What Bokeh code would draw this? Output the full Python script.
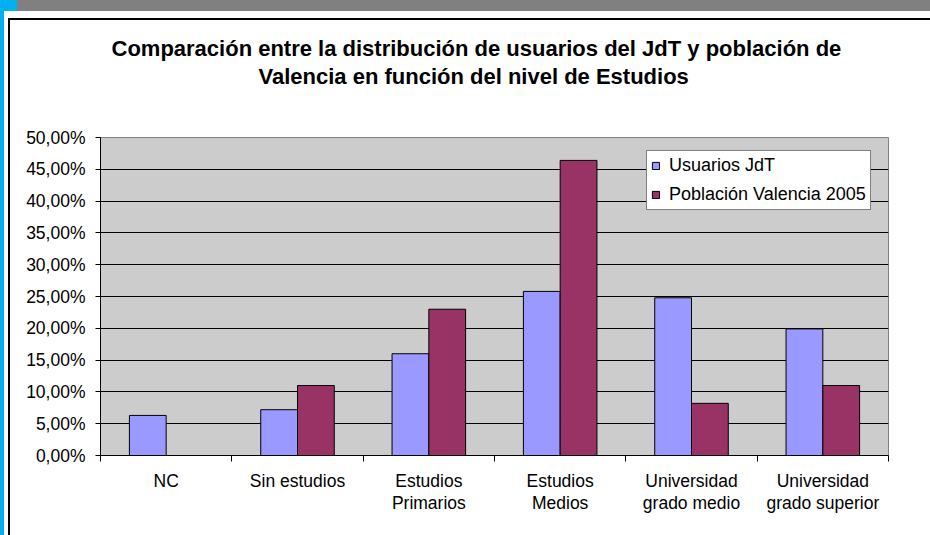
from bokeh.plotting import figure
from bokeh.models import (Range1d, FixedTicker, ColumnDataSource, Legend, LegendItem, Title,
                          LinearAxis)
from bokeh.transform import dodge
from bokeh.embed import file_html
from bokeh.resources import INLINE

# ---------------- data ----------------
CATEGORIES = [
    "NC",
    "Sin estudios",
    "Estudios\nPrimarios",
    "Estudios\nMedios",
    "Universidad\ngrado medio",
    "Universidad\ngrado superior",
]
USUARIOS_JDT = [6.3, 7.2, 16.0, 25.8, 24.8, 19.9]
POBLACION_VALENCIA_2005 = [float("nan"), 11.0, 23.0, 46.4, 8.2, 11.0]
SERIES_NAMES = ["Usuarios JdT", "Población Valencia 2005"]
Y_TICKS = [0, 5, 10, 15, 20, 25, 30, 35, 40, 45, 50]
Y_TICK_LABELS = ["0,00%", "5,00%", "10,00%", "15,00%", "20,00%", "25,00%",
                 "30,00%", "35,00%", "40,00%", "45,00%", "50,00%"]
TITLE_LINES = [
    "Comparación entre la distribución de usuarios del JdT y población de",
    "Valencia en función del nivel de Estudios",
]

FONT = "Liberation Sans"
BLUE = "#9999FF"
PLUM = "#993366"

n = len(CATEGORIES)
centers = [i + 0.5 for i in range(n)]
boundaries = [i for i in range(n + 1)]

p = figure(width=930, height=535, output_backend="svg", toolbar_location=None,
           x_range=Range1d(0, n), y_range=Range1d(0, 50),
           min_border_left=100, min_border_right=42,
           min_border_top=137, min_border_bottom=80)
p.title.visible = False
p.background_fill_color = "#CCCCCC"
p.border_fill_color = None
p.outline_line_color = "#808080"
p.outline_line_width = 1

# decorations of the original screenshot (page frame) via CSS background
p.styles = {
    "background": (
        "linear-gradient(#00B0F0,#00B0F0) 0px 0px / 17px 11px no-repeat, "
        "linear-gradient(#00B0F0,#00B0F0) 0px 0px / 4px 100% no-repeat, "
        "linear-gradient(#808080,#808080) 17px 0px / 913px 11px no-repeat, "
        "linear-gradient(#000000,#000000) 8px 18px / 2px 517px no-repeat, "
        "linear-gradient(#000000,#000000) 8px 18px / 922px 2px no-repeat, "
        "#FFFFFF"
    ),
}

# grid
p.xgrid.visible = False
p.ygrid.grid_line_color = "black"
p.ygrid.grid_line_width = 1
p.ygrid.ticker = FixedTicker(ticks=Y_TICKS)

# y axis
p.yaxis.ticker = FixedTicker(ticks=Y_TICKS)
p.yaxis.major_label_overrides = dict(zip(Y_TICKS, Y_TICK_LABELS))
p.yaxis.axis_line_color = "black"
p.yaxis.major_tick_line_color = "black"
p.yaxis.major_tick_out = 5
p.yaxis.major_tick_in = 0
p.yaxis.minor_tick_line_color = None
p.yaxis.major_label_standoff = 10
p.yaxis.major_label_text_font = FONT
p.yaxis.major_label_text_font_size = "17.5px"
p.yaxis.major_label_text_color = "black"

# x axis (labels at category centres, ticks at category boundaries)
p.xaxis.ticker = FixedTicker(ticks=centers, minor_ticks=boundaries)
p.xaxis.major_label_overrides = dict(zip(centers, CATEGORIES))
p.xaxis.axis_line_color = "black"
p.xaxis.major_tick_line_color = None
p.xaxis.major_tick_out = 0
p.xaxis.major_tick_in = 0
p.xaxis.minor_tick_line_color = "black"
p.xaxis.minor_tick_out = 6
p.xaxis.minor_tick_in = 0
p.xaxis.major_label_standoff = 9
p.xaxis.major_label_text_font = FONT
p.xaxis.major_label_text_font_size = "17.5px"
p.xaxis.major_label_text_color = "black"
p.xaxis.major_label_text_line_height = 1.1

# bars
src = ColumnDataSource(dict(x=centers, jdt=USUARIOS_JDT, pob=POBLACION_VALENCIA_2005))
r1 = p.vbar(x=dodge("x", -0.14, range=p.x_range), top="jdt", width=0.28, source=src,
            fill_color=BLUE, line_color="black", line_width=1)
r2 = p.vbar(x=dodge("x", 0.14, range=p.x_range), top="pob", width=0.28, source=src,
            fill_color=PLUM, line_color="black", line_width=1)

legend = Legend(items=[LegendItem(label=SERIES_NAMES[0], renderers=[r1]),
                       LegendItem(label=SERIES_NAMES[1], renderers=[r2])],
                location=(546, 245))
legend.border_line_color = "black"
legend.border_line_width = 1
legend.background_fill_color = "white"
legend.background_fill_alpha = 1
legend.glyph_width = 9
legend.glyph_height = 9
legend.label_standoff = 9
legend.padding = 4
legend.spacing = 8
legend.label_height = 20
legend.margin = 0
legend.label_text_font = FONT
legend.label_text_font_size = "18px"
legend.label_text_color = "black"
p.add_layout(legend)

# invisible spacer between the plot area and the title block
spacer = LinearAxis(ticker=FixedTicker(ticks=[0]), axis_line_color=None,
                    major_tick_line_color=None, minor_tick_line_color=None,
                    major_tick_out=47, major_tick_in=0, minor_tick_out=0, minor_tick_in=0,
                    major_label_standoff=0, major_label_text_color=None,
                    major_label_text_font_size="1px")
p.add_layout(spacer, "above")

# title (two lines, each its own Title in the "above" panel)
t2 = Title(text=TITLE_LINES[1], align="left", offset=158, vertical_align="top",
           standoff=0, text_font=FONT, text_font_style="bold",
           text_font_size="22px", text_color="black")
t1 = Title(text=TITLE_LINES[0], align="left", offset=11, vertical_align="top",
           standoff=2, text_font=FONT, text_font_style="bold",
           text_font_size="22px", text_color="black")
p.add_layout(t2, "above")
p.add_layout(t1, "above")

open("out.html", "w").write(file_html(p, INLINE))
